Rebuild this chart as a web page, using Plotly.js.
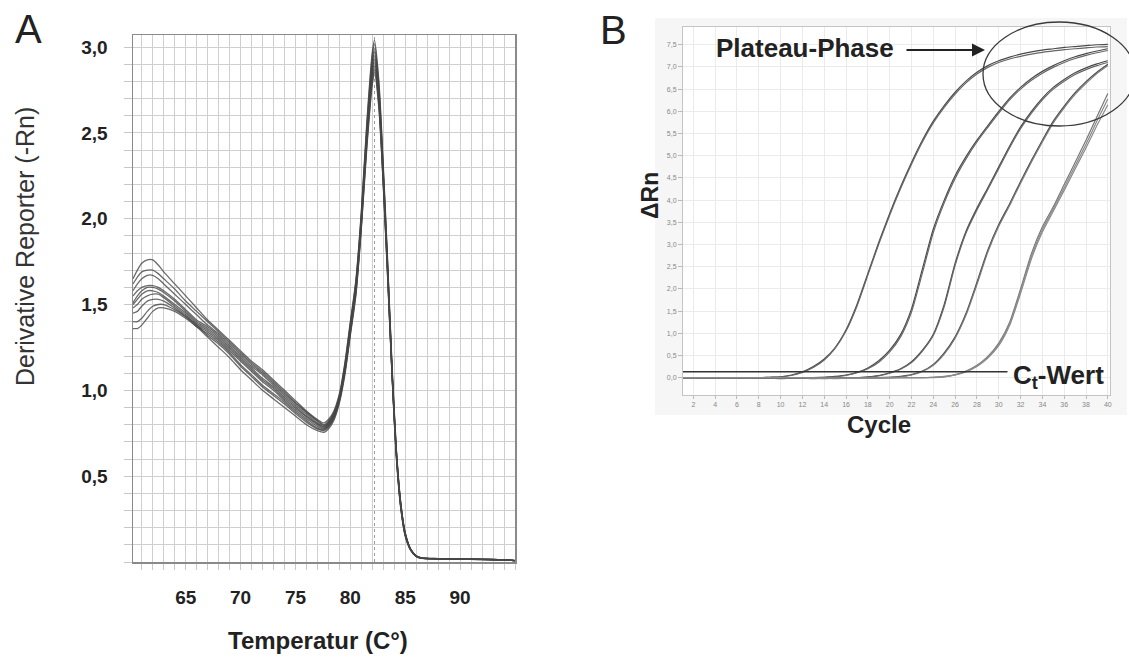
<!DOCTYPE html>
<html>
<head>
<meta charset="utf-8">
<script src="https://cdn.plot.ly/plotly-3.0.1.min.js"></script>
<style>html,body{margin:0;padding:0;background:#fff}#chart{width:1129px;height:660px}</style>
</head>
<body>
<div id="chart"></div>
<script>
// ---------- Panel A: melt curve data ----------
const tempsA = [60.2,60.6,61.0,61.5,62.0,62.5,63.0,64,65,66,67,68,69,70,71,72,73,74,75,76,77,77.6,
  78.0,78.5,79.0,79.5,80.0,80.5,81.0,81.5,82.0,82.2,82.6,83.0,83.4,83.8,84.2,84.6,85.0,85.5,86.0,86.5,88,90,92,94,95];
const meltC1 = [1.65,1.70,1.74,1.76,1.76,1.73,1.69,1.62,1.55,1.48,1.41,1.35,1.29,1.23,1.17,1.12,1.06,1.00,0.94,0.88,0.83,0.81,
  0.83,0.88,0.98,1.16,1.40,1.64,2.04,2.56,2.97,3.04,2.80,2.31,1.75,1.14,0.65,0.34,0.17,0.075,0.036,0.024,0.020,0.018,0.016,0.014,0.008];
const meltC2 = [1.62,1.66,1.69,1.70,1.70,1.68,1.65,1.59,1.52,1.46,1.40,1.34,1.28,1.22,1.16,1.11,1.05,0.99,0.93,0.875,0.825,0.80,
  0.82,0.87,0.97,1.15,1.39,1.63,2.03,2.54,2.95,3.02,2.78,2.29,1.73,1.13,0.64,0.34,0.17,0.074,0.035,0.024,0.020,0.018,0.016,0.014,0.008];
const meltC3 = [1.58,1.62,1.65,1.67,1.67,1.65,1.62,1.56,1.50,1.44,1.38,1.33,1.27,1.21,1.15,1.10,1.04,0.98,0.925,0.87,0.82,0.795,
  0.815,0.865,0.965,1.14,1.38,1.62,2.01,2.52,2.92,2.99,2.75,2.27,1.72,1.12,0.64,0.33,0.165,0.073,0.035,0.023,0.019,0.017,0.015,0.013,0.008];
const meltC4 = [1.55,1.58,1.60,1.61,1.61,1.60,1.58,1.53,1.47,1.41,1.37,1.32,1.26,1.20,1.14,1.09,1.03,0.97,0.915,0.86,0.81,0.79,
  0.81,0.86,0.96,1.13,1.37,1.61,2.00,2.50,2.90,2.97,2.74,2.26,1.71,1.11,0.63,0.33,0.165,0.072,0.034,0.023,0.019,0.017,0.015,0.013,0.008];
const meltC5 = [1.51,1.55,1.58,1.60,1.60,1.59,1.57,1.52,1.46,1.40,1.36,1.31,1.25,1.19,1.13,1.07,1.02,0.96,0.905,0.85,0.805,0.785,
  0.805,0.855,0.955,1.12,1.36,1.60,1.99,2.49,2.88,2.95,2.72,2.25,1.70,1.11,0.63,0.33,0.16,0.072,0.034,0.023,0.019,0.017,0.015,0.013,0.008];
const meltC6 = [1.50,1.53,1.56,1.58,1.58,1.57,1.55,1.50,1.45,1.39,1.35,1.30,1.24,1.18,1.12,1.06,1.01,0.95,0.895,0.845,0.80,0.78,
  0.80,0.85,0.95,1.12,1.35,1.59,1.98,2.47,2.86,2.93,2.70,2.24,1.69,1.10,0.62,0.32,0.16,0.071,0.034,0.022,0.019,0.017,0.015,0.013,0.008];
const meltC7 = [1.48,1.50,1.53,1.55,1.56,1.56,1.54,1.49,1.44,1.38,1.34,1.29,1.23,1.17,1.11,1.05,1.00,0.94,0.885,0.835,0.79,0.775,
  0.795,0.845,0.945,1.11,1.34,1.58,1.97,2.46,2.84,2.91,2.69,2.22,1.68,1.10,0.62,0.32,0.16,0.070,0.033,0.022,0.018,0.016,0.015,0.013,0.008];
const meltC8 = [1.45,1.46,1.49,1.52,1.53,1.53,1.52,1.48,1.43,1.37,1.33,1.28,1.22,1.15,1.09,1.03,0.98,0.93,0.875,0.825,0.78,0.77,
  0.79,0.84,0.94,1.11,1.34,1.57,1.96,2.44,2.82,2.89,2.67,2.21,1.67,1.09,0.61,0.32,0.155,0.070,0.033,0.022,0.018,0.016,0.014,0.012,0.008];
const meltC9 = [1.40,1.40,1.42,1.46,1.49,1.50,1.50,1.47,1.43,1.38,1.32,1.27,1.21,1.14,1.08,1.02,0.97,0.92,0.865,0.815,0.775,0.765,
  0.785,0.835,0.935,1.10,1.33,1.56,1.95,2.43,2.80,2.87,2.66,2.20,1.66,1.09,0.61,0.31,0.155,0.069,0.033,0.022,0.018,0.016,0.014,0.012,0.008];
const meltC10 = [1.36,1.36,1.38,1.42,1.46,1.48,1.48,1.46,1.42,1.37,1.31,1.25,1.19,1.12,1.06,1.00,0.95,0.90,0.85,0.80,0.765,0.755,
  0.775,0.825,0.925,1.09,1.32,1.55,1.94,2.41,2.78,2.85,2.64,2.19,1.65,1.08,0.60,0.31,0.15,0.068,0.032,0.021,0.018,0.016,0.014,0.012,0.008];
const meltPeakTemp = [82.2, 82.2];
const meltPeakSpan = [0, 3.07];
const tickValsA_x = [65,70,75,80,85,90];
const tickTextA_x = ['65','70','75','80','85','90'];
const tickValsA_y = [0.5,1.0,1.5,2.0,2.5,3.0];
const tickTextA_y = ['0,5','1,0','1,5','2,0','2,5','3,0'];

// ---------- Panel B: amplification data ----------
const cycles = [1,2,3,4,5,6,7,8,9,10,11,12,13,14,15,16,17,18,19,20,21,22,23,24,25,26,27,28,29,30,31,32,33,34,35,36,37,38,39,40];
const ampG1a = [0,0,-0.01,0,0,-0.01,0,0,0.01,0.02,0.06,0.13,0.25,0.42,0.68,1.08,1.65,2.35,3.05,3.70,4.30,4.85,5.35,5.78,6.13,6.43,6.68,6.88,7.03,7.14,7.22,7.29,7.34,7.38,7.41,7.44,7.46,7.48,7.50,7.51];
const ampG1b = [0,0,0,-0.01,0,0,0,0,0.01,0.02,0.05,0.12,0.23,0.40,0.66,1.05,1.61,2.31,3.01,3.66,4.26,4.81,5.31,5.74,6.09,6.39,6.64,6.84,6.99,7.10,7.18,7.24,7.29,7.33,7.36,7.39,7.41,7.43,7.45,7.46];
const ampG2a = [0,0,0,0,0,0,0,-0.01,-0.01,-0.01,-0.01,0,0,0.01,0.03,0.06,0.12,0.22,0.38,0.62,0.97,1.55,2.45,3.35,4.00,4.55,4.98,5.35,5.68,6.00,6.30,6.54,6.74,6.90,7.03,7.14,7.23,7.30,7.36,7.41];
const ampG2b = [0,0,0,0,0,0,0,-0.01,-0.01,-0.02,-0.01,-0.01,0,0.01,0.02,0.05,0.11,0.20,0.35,0.58,0.92,1.48,2.36,3.27,3.94,4.49,4.93,5.31,5.64,5.96,6.26,6.50,6.70,6.86,6.99,7.10,7.19,7.26,7.32,7.37];
const ampG3a = [0,0,0,0,0,0,0,0,0,0,-0.01,-0.01,-0.01,-0.01,-0.01,0,0,0.02,0.05,0.11,0.20,0.36,0.62,0.98,1.65,2.58,3.30,3.82,4.28,4.75,5.22,5.65,6.00,6.30,6.54,6.72,6.87,6.98,7.07,7.14];
const ampG3b = [0,0,0,0,0,0,0,0,0,0,-0.01,-0.01,-0.02,-0.01,-0.01,-0.01,0,0.01,0.04,0.10,0.19,0.34,0.60,0.95,1.60,2.53,3.26,3.78,4.24,4.71,5.18,5.61,5.96,6.26,6.50,6.68,6.83,6.94,7.03,7.10];
const ampG4a = [0,0,0,0,0,0,0,0,0,0,0,-0.01,-0.01,-0.01,-0.01,-0.01,-0.01,0,0,0.01,0.03,0.07,0.15,0.30,0.56,0.92,1.45,2.15,2.88,3.45,3.92,4.42,4.90,5.35,5.78,6.12,6.42,6.67,6.88,7.06];
const ampG4b = [0,0,0,0,0,0,0,0,0,0,0,-0.01,-0.01,-0.02,-0.01,-0.01,-0.01,-0.01,0,0.01,0.02,0.06,0.14,0.28,0.53,0.89,1.41,2.10,2.83,3.41,3.88,4.38,4.86,5.31,5.74,6.08,6.38,6.63,6.85,7.03];
const ampG5a = [0,0,0,0,0,0,0,0,0,0,0,0,-0.01,-0.01,-0.01,-0.01,-0.01,-0.01,-0.01,0,0,0,0,0.01,0.03,0.07,0.15,0.28,0.48,0.78,1.25,2.00,2.80,3.40,3.85,4.35,4.85,5.35,5.88,6.40];
const ampG5b = [0,0,0,0,0,0,0,0,0,0,0,0,-0.01,-0.01,-0.02,-0.01,-0.01,-0.01,-0.01,-0.01,0,0,0,0,0.02,0.06,0.13,0.25,0.44,0.72,1.18,1.90,2.68,3.28,3.75,4.22,4.70,5.18,5.68,6.15];
const ampG5c = [0,0,0,0,0,0,0,0,0,0,0,0,-0.01,-0.01,-0.01,-0.01,-0.01,-0.01,0,0,0,0,0,0.01,0.02,0.06,0.14,0.27,0.46,0.75,1.22,1.95,2.74,3.34,3.80,4.28,4.77,5.26,5.78,6.28];
const ctThreshold = [0.135, 0.135];
const ctLineCycles = [1.05, 30.8];
const tickValsB_x = [2,4,6,8,10,12,14,16,18,20,22,24,26,28,30,32,34,36,38,40];
const tickValsB_y = [0,0.5,1,1.5,2,2.5,3,3.5,4,4.5,5,5.5,6,6.5,7,7.5];
const tickTextB_y = ['0,0','0,5','1,0','1,5','2,0','2,5','3,0','3,5','4,0','4,5','5,0','5,5','6,0','6,5','7,0','7,5'];

// ---------- build ----------
const W = 1129, H = 660;
const px = x => x / W;
const py = y => 1 - y / H;
const FONT = 'Liberation Sans, Arial, sans-serif';

const traces = [];
[meltC1,meltC2,meltC3,meltC4,meltC5,meltC6,meltC7,meltC8,meltC9,meltC10].forEach(ys => {
  traces.push({x: tempsA, y: ys, xaxis: 'x', yaxis: 'y', mode: 'lines',
    line: {color: 'rgba(70,70,70,0.8)', width: 1.3, shape: 'spline', smoothing: 0.7},
    hoverinfo: 'skip', showlegend: false});
});
traces.push({x: meltPeakTemp, y: meltPeakSpan, xaxis: 'x', yaxis: 'y', mode: 'lines',
  line: {color: '#9a9a9a', width: 1, dash: 'dot'}, hoverinfo: 'skip', showlegend: false});

const ampSets = [
  [ampG1a,'#4a4a4a'],[ampG1b,'#666'],[ampG2a,'#4a4a4a'],[ampG2b,'#666'],
  [ampG3a,'#4a4a4a'],[ampG3b,'#666'],[ampG4a,'#4a4a4a'],[ampG4b,'#777'],
  [ampG5a,'#777'],[ampG5b,'#8a8a8a'],[ampG5c,'#8a8a8a']
];
ampSets.forEach(([ys,c]) => {
  traces.push({x: cycles, y: ys, xaxis: 'x2', yaxis: 'y2', mode: 'lines',
    line: {color: c, width: 1.2, shape: 'spline', smoothing: 0.6},
    hoverinfo: 'skip', showlegend: false});
});
traces.push({x: ctLineCycles, y: ctThreshold, xaxis: 'x2', yaxis: 'y2', mode: 'lines',
  line: {color: '#333', width: 1.6}, hoverinfo: 'skip', showlegend: false});

function ann(text, x, y, size, opts) {
  return Object.assign({text: text, xref: 'paper', yref: 'paper', x: px(x), y: py(y),
    xanchor: 'center', yanchor: 'middle', showarrow: false,
    font: {family: FONT, size: size, color: '#222'}}, opts || {});
}

const layout = {
  width: W, height: H,
  margin: {l: 0, r: 0, t: 0, b: 0},
  paper_bgcolor: '#fff', plot_bgcolor: '#fff',
  font: {family: FONT, color: '#222'},
  xaxis: {
    domain: [px(133), px(515)], range: [60.2, 95],
    tickmode: 'array', tickvals: tickValsA_x, ticktext: tickTextA_x,
    showgrid: true, gridcolor: '#cfcfcf', gridwidth: 1,
    minor: {dtick: 1, tick0: 0, showgrid: true, gridcolor: '#cfcfcf', gridwidth: 1, ticks: 'outside', ticklen: 6, tickcolor: '#c8c8c8'},
    ticks: 'outside', ticklen: 6, tickcolor: '#c8c8c8',
    showline: true, mirror: true, linecolor: '#8a8a8a', linewidth: 1.5,
    zeroline: false, ticklabelstandoff: 12,
    tickfont: {family: FONT, size: 19, color: '#222', weight: 'bold'}
  },
  yaxis: {
    domain: [py(562), py(35)], range: [0, 3.07],
    tickmode: 'array', tickvals: tickValsA_y, ticktext: tickTextA_y,
    showgrid: true, gridcolor: '#cfcfcf', gridwidth: 1,
    minor: {dtick: 0.1, tick0: 0, showgrid: true, gridcolor: '#cfcfcf', gridwidth: 1, ticks: 'outside', ticklen: 8, tickcolor: '#c8c8c8'},
    ticks: 'outside', ticklen: 8, tickcolor: '#c8c8c8',
    showline: true, mirror: true, linecolor: '#8a8a8a', linewidth: 1.5,
    zeroline: false, ticklabelstandoff: 12,
    tickfont: {family: FONT, size: 19, color: '#222', weight: 'bold'}
  },
  xaxis2: {
    domain: [px(683), px(1110)], range: [1.05, 40.2], anchor: 'y2',
    tickmode: 'array', tickvals: tickValsB_x,
    showgrid: true, gridcolor: '#ebebeb', gridwidth: 1,
    ticks: 'outside', ticklen: 3, tickcolor: '#bbb',
    showline: true, mirror: true, linecolor: '#c4c4c4', linewidth: 1,
    zeroline: false,
    tickfont: {family: FONT, size: 7, color: '#888'}
  },
  yaxis2: {
    domain: [py(395), py(27)], range: [-0.39, 7.9], anchor: 'x2',
    tickmode: 'array', tickvals: tickValsB_y, ticktext: tickTextB_y,
    showgrid: true, gridcolor: '#ebebeb', gridwidth: 1,
    ticks: 'outside', ticklen: 4, tickcolor: '#bbb',
    showline: true, mirror: true, linecolor: '#c4c4c4', linewidth: 1,
    zeroline: false,
    tickfont: {family: FONT, size: 7, color: '#888'}
  },
  shapes: [
    {type: 'rect', xref: 'paper', yref: 'paper', x0: px(655), x1: px(1127), y0: py(415), y1: py(18),
      fillcolor: '#f6f6f6', line: {width: 0}, layer: 'below'},
    {type: 'rect', xref: 'x2 domain', yref: 'y2 domain', x0: 0, x1: 1, y0: 0, y1: 1,
      fillcolor: '#ffffff', line: {width: 0}, layer: 'below'},
    {type: 'circle', xref: 'paper', yref: 'paper', x0: px(983), x1: px(1135), y0: py(126), y1: py(22),
      line: {color: '#3a3a3a', width: 1.3}, fillcolor: 'rgba(0,0,0,0)'}
  ],
  annotations: [
    ann('A', 29, 29, 40),
    ann('B', 613, 30, 40),
    ann('Derivative Reporter (-Rn)', 25, 247, 25, {textangle: -90, font: {family: FONT, size: 25, color: '#333'}}),
    ann('Temperatur (C°)', 318, 640, 24, {font: {family: FONT, size: 24, color: '#222', weight: 'bold'}}),
    ann('ΔRn', 650, 196, 23, {textangle: -90, font: {family: FONT, size: 23, color: '#222', weight: 'bold'}}),
    ann('Cycle', 879, 424, 24, {font: {family: FONT, size: 24, color: '#222', weight: 'bold'}}),
    ann('Plateau-Phase', 805, 48, 26, {font: {family: FONT, size: 26, color: '#222', weight: 'bold'}}),
    {text: '', xref: 'paper', yref: 'paper', x: px(985), y: py(50), ax: -80, ay: 0,
      showarrow: true, arrowhead: 2, arrowsize: 1.3, arrowwidth: 2, arrowcolor: '#222'},
    ann('C<sub>t</sub>-Wert', 1058, 376, 26, {font: {family: FONT, size: 26, color: '#222', weight: 'bold'}})
  ]
};

Plotly.newPlot('chart', traces, layout, {staticPlot: true});
</script>
</body>
</html>
